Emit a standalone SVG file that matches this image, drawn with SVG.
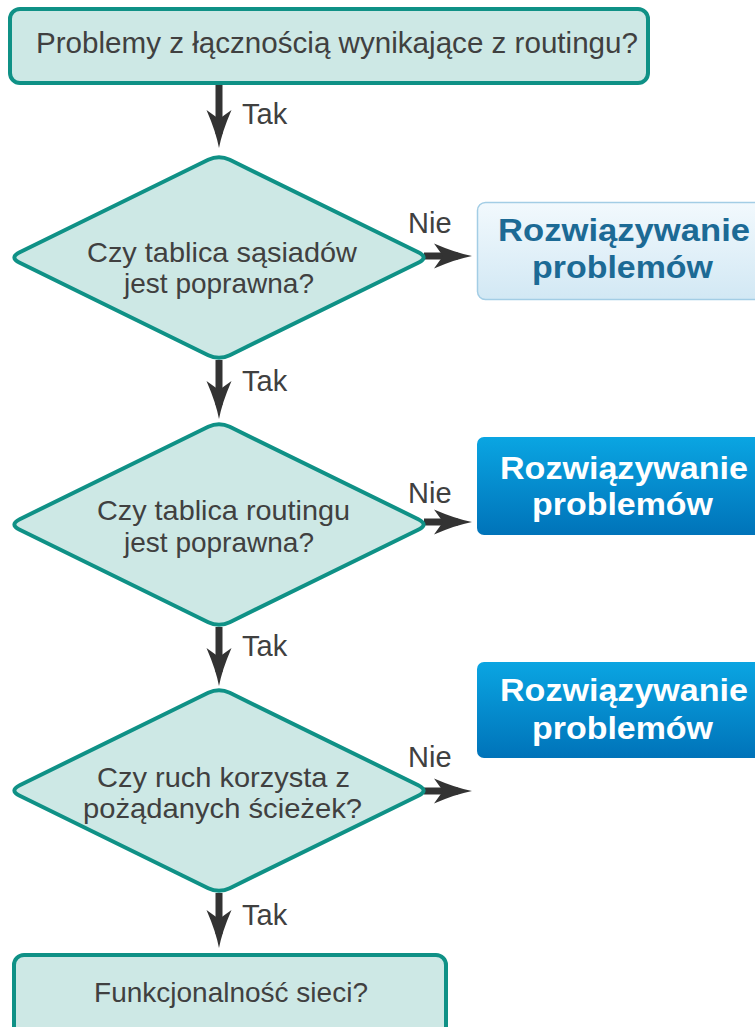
<svg xmlns="http://www.w3.org/2000/svg" width="755" height="1027" viewBox="0 0 755 1027">
  <style>
    .step { fill: #cde8e5; stroke: #0f9186; stroke-width: 4; }
    .q { font-family: "Liberation Sans", Arial, sans-serif; font-size: 28px; fill: #404040; text-anchor: middle; }
    .lbl { font-family: "Liberation Sans", Arial, sans-serif; font-size: 29px; fill: #404040; }
    .conn { stroke: #333333; stroke-width: 7; fill: none; marker-end: url(#head); }
    .fix { font-family: "Liberation Sans", Arial, sans-serif; font-size: 32px; font-weight: bold; text-anchor: middle; }
    .fix-light { fill: #1c6a95; }
    .fix-dark { fill: #ffffff; }
  </style>
  <defs>
    <marker id="head" markerUnits="userSpaceOnUse" viewBox="0 -13 38 26" markerWidth="38" markerHeight="26" refX="24" refY="0" orient="auto">
      <path d="M0,-12.5 Q22,-3 38,0 Q22,3 0,12.5 L9,0 Z" fill="#333333"/>
    </marker>
    <linearGradient id="lightFill" x1="0" y1="0" x2="0" y2="1">
      <stop offset="0" stop-color="#f2f9fd"/>
      <stop offset="1" stop-color="#d2e8f4"/>
    </linearGradient>
    <linearGradient id="blueFill" x1="0" y1="0" x2="0" y2="1">
      <stop offset="0" stop-color="#0aa5e2"/>
      <stop offset="1" stop-color="#0073b9"/>
    </linearGradient>
  </defs>

  <!-- connectors -->
  <g id="connectors">
    <line class="conn" x1="219" y1="85" x2="219" y2="134"/>
    <line class="conn" x1="219" y1="360" x2="219" y2="405"/>
    <line class="conn" x1="219" y1="627" x2="219" y2="672"/>
    <line class="conn" x1="219" y1="893" x2="219" y2="934"/>
    <line class="conn" x1="424" y1="256" x2="458" y2="256"/>
    <line class="conn" x1="424" y1="522" x2="458" y2="522"/>
    <line class="conn" x1="424" y1="791" x2="458" y2="791"/>
    <text class="lbl" x="242" y="124">Tak</text>
    <text class="lbl" x="242" y="391">Tak</text>
    <text class="lbl" x="242" y="656">Tak</text>
    <text class="lbl" x="242" y="925">Tak</text>
    <text class="lbl" x="408" y="233">Nie</text>
    <text class="lbl" x="408" y="503">Nie</text>
    <text class="lbl" x="408" y="767">Nie</text>
  </g>

  <!-- start step -->
  <g id="start">
    <rect class="step" x="10" y="9" width="638" height="74" rx="10"/>
    <text class="q" x="337" y="53" style="font-size:30px" textLength="602" lengthAdjust="spacingAndGlyphs">Problemy z łącznością wynikające z routingu?</text>
  </g>

  <!-- decision: neighbour table -->
  <g id="neighbors">
    <path class="step" d="M229.75,159.8 L418.25,252.2 Q429,257.5 418.25,262.8 L229.75,355.2 Q219,360.5 208.25,355.2 L19.75,262.8 Q9,257.5 19.75,252.2 L208.25,159.8 Q219,154.5 229.75,159.8 Z"/>
    <text class="q" x="222" y="262" textLength="270" lengthAdjust="spacingAndGlyphs">Czy tablica sąsiadów</text>
    <text class="q" x="219" y="293">jest poprawna?</text>
  </g>

  <!-- decision: routing table -->
  <g id="routing">
    <path class="step" d="M229.75,426.8 L418.25,519.2 Q429,524.5 418.25,529.8 L229.75,622.2 Q219,627.5 208.25,622.2 L19.75,529.8 Q9,524.5 19.75,519.2 L208.25,426.8 Q219,421.5 229.75,426.8 Z"/>
    <text class="q" x="223.5" y="520" textLength="253" lengthAdjust="spacingAndGlyphs">Czy tablica routingu</text>
    <text class="q" x="219" y="552">jest poprawna?</text>
  </g>

  <!-- decision: traffic paths -->
  <g id="paths">
    <path class="step" d="M229.75,692.8 L418.25,785.2 Q429,790.5 418.25,795.8 L229.75,888.2 Q219,893.5 208.25,888.2 L19.75,795.8 Q9,790.5 19.75,785.2 L208.25,692.8 Q219,687.5 229.75,692.8 Z"/>
    <text class="q" x="223.5" y="787" textLength="253" lengthAdjust="spacingAndGlyphs">Czy ruch korzysta z</text>
    <text class="q" x="222.5" y="818" textLength="279" lengthAdjust="spacingAndGlyphs">pożądanych ścieżek?</text>
  </g>

  <!-- end step -->
  <g id="network">
    <rect class="step" x="14" y="955" width="432" height="90" rx="10"/>
    <text class="q" x="231" y="1002">Funkcjonalność sieci?</text>
  </g>

  <!-- troubleshooting boxes -->
  <g id="fix1">
    <rect x="477.5" y="202.5" width="290" height="97" rx="8" fill="url(#lightFill)" stroke="#a3cde5" stroke-width="1.5"/>
    <text class="fix fix-light" x="624" y="241" textLength="252" lengthAdjust="spacingAndGlyphs">Rozwiązywanie</text>
    <text class="fix fix-light" x="622.5" y="278" textLength="181" lengthAdjust="spacingAndGlyphs">problemów</text>
  </g>
  <g id="fix2">
    <rect x="477" y="437" width="290" height="98" rx="7" fill="url(#blueFill)"/>
    <text class="fix fix-dark" x="624" y="479" textLength="248" lengthAdjust="spacingAndGlyphs">Rozwiązywanie</text>
    <text class="fix fix-dark" x="622.5" y="515" textLength="181" lengthAdjust="spacingAndGlyphs">problemów</text>
  </g>
  <g id="fix3">
    <rect x="477" y="662" width="290" height="96" rx="7" fill="url(#blueFill)"/>
    <text class="fix fix-dark" x="624" y="701" textLength="248" lengthAdjust="spacingAndGlyphs">Rozwiązywanie</text>
    <text class="fix fix-dark" x="622.5" y="739" textLength="181" lengthAdjust="spacingAndGlyphs">problemów</text>
  </g>
</svg>
